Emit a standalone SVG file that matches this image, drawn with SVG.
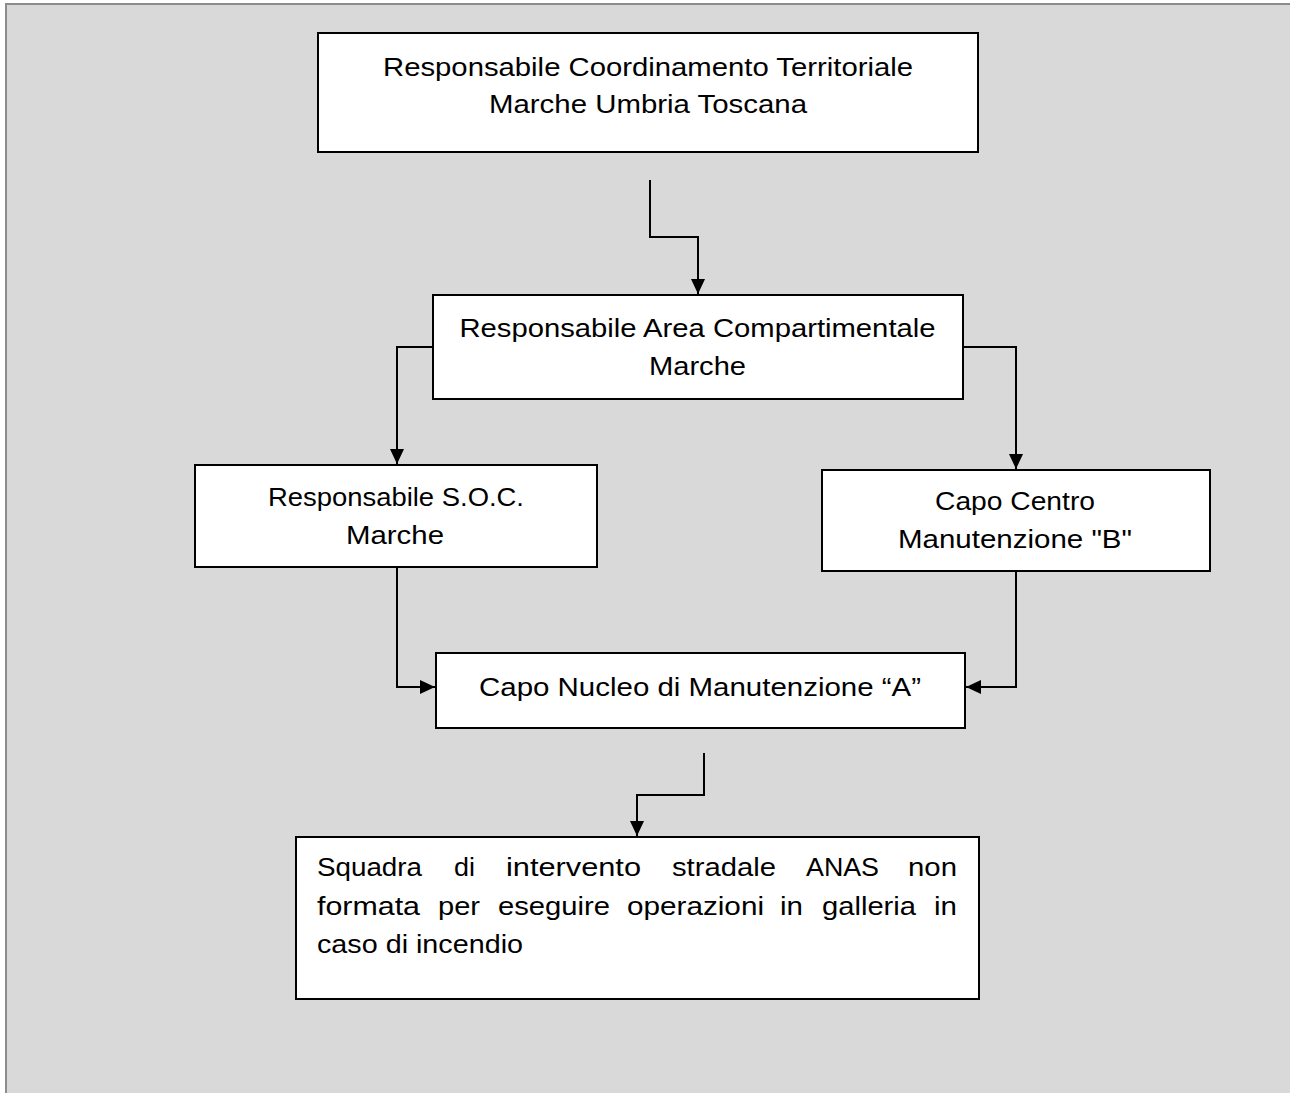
<svg xmlns="http://www.w3.org/2000/svg" width="1290" height="1093" viewBox="0 0 1290 1093">
<style>
.frame{fill:#d9d9d9;stroke:#8c8c8c;stroke-width:2}
.box{fill:#ffffff;stroke:#000000;stroke-width:2}
.t{font-family:"Liberation Sans",Arial,sans-serif;font-size:26px;fill:#000000}
.c{text-anchor:middle}
.conn{fill:none;stroke:#000000;stroke-width:2}
</style>
<defs>
<marker id="ah" markerUnits="userSpaceOnUse" markerWidth="16" markerHeight="14" refX="15" refY="7" orient="auto">
<path d="M0,0 L15,7 L0,14 Z" fill="#000000"/>
</marker>
</defs>
<rect class="frame" x="6" y="4" width="1300" height="1100"/>
<g id="connectors">
<path class="conn" d="M650,180 V237 H698 V294" marker-end="url(#ah)"/>
<path class="conn" d="M433,347 H397 V464" marker-end="url(#ah)"/>
<path class="conn" d="M963,347 H1016 V469" marker-end="url(#ah)"/>
<path class="conn" d="M397,567 V687 H435" marker-end="url(#ah)"/>
<path class="conn" d="M1016,571 V687 H966" marker-end="url(#ah)"/>
<path class="conn" d="M704,753 V795 H637 V836" marker-end="url(#ah)"/>
</g>
<g id="n1">
<rect class="box" x="318" y="33" width="660" height="119"/>
<text class="t c" x="648" y="76" textLength="530" lengthAdjust="spacingAndGlyphs">Responsabile Coordinamento Territoriale</text>
<text class="t c" x="648" y="113" textLength="318" lengthAdjust="spacingAndGlyphs">Marche Umbria Toscana</text>
</g>
<g id="n2">
<rect class="box" x="433" y="295" width="530" height="104"/>
<text class="t c" x="697.5" y="337" textLength="476" lengthAdjust="spacingAndGlyphs">Responsabile Area Compartimentale</text>
<text class="t c" x="697.5" y="375" textLength="97" lengthAdjust="spacingAndGlyphs">Marche</text>
</g>
<g id="n3">
<rect class="box" x="195" y="465" width="402" height="102"/>
<text class="t c" x="396" y="506" textLength="256" lengthAdjust="spacingAndGlyphs">Responsabile S.O.C.</text>
<text class="t c" x="395" y="544" textLength="98" lengthAdjust="spacingAndGlyphs">Marche</text>
</g>
<g id="n4">
<rect class="box" x="822" y="470" width="388" height="101"/>
<text class="t c" x="1015" y="510" textLength="160" lengthAdjust="spacingAndGlyphs">Capo Centro</text>
<text class="t c" x="1015" y="548" textLength="234" lengthAdjust="spacingAndGlyphs">Manutenzione "B"</text>
</g>
<g id="n5">
<rect class="box" x="436" y="653" width="529" height="75"/>
<text class="t c" x="700" y="696" textLength="442" lengthAdjust="spacingAndGlyphs">Capo Nucleo di Manutenzione “A”</text>
</g>
<g id="n6">
<rect class="box" x="296" y="837" width="683" height="162"/>
<g class="t">
<text x="317" y="876" textLength="105" lengthAdjust="spacingAndGlyphs">Squadra</text>
<text x="454" y="876" textLength="21" lengthAdjust="spacingAndGlyphs">di</text>
<text x="506" y="876" textLength="135" lengthAdjust="spacingAndGlyphs">intervento</text>
<text x="672" y="876" textLength="104" lengthAdjust="spacingAndGlyphs">stradale</text>
<text x="806" y="876" textLength="73" lengthAdjust="spacingAndGlyphs">ANAS</text>
<text x="908" y="876" textLength="49" lengthAdjust="spacingAndGlyphs">non</text>
<text x="317" y="915" textLength="103" lengthAdjust="spacingAndGlyphs">formata</text>
<text x="438" y="915" textLength="42" lengthAdjust="spacingAndGlyphs">per</text>
<text x="498" y="915" textLength="112" lengthAdjust="spacingAndGlyphs">eseguire</text>
<text x="627" y="915" textLength="137" lengthAdjust="spacingAndGlyphs">operazioni</text>
<text x="780" y="915" textLength="23" lengthAdjust="spacingAndGlyphs">in</text>
<text x="822" y="915" textLength="94" lengthAdjust="spacingAndGlyphs">galleria</text>
<text x="934" y="915" textLength="23" lengthAdjust="spacingAndGlyphs">in</text>
<text x="317" y="953" textLength="206" lengthAdjust="spacingAndGlyphs">caso di incendio</text>
</g>
</g>
</svg>
